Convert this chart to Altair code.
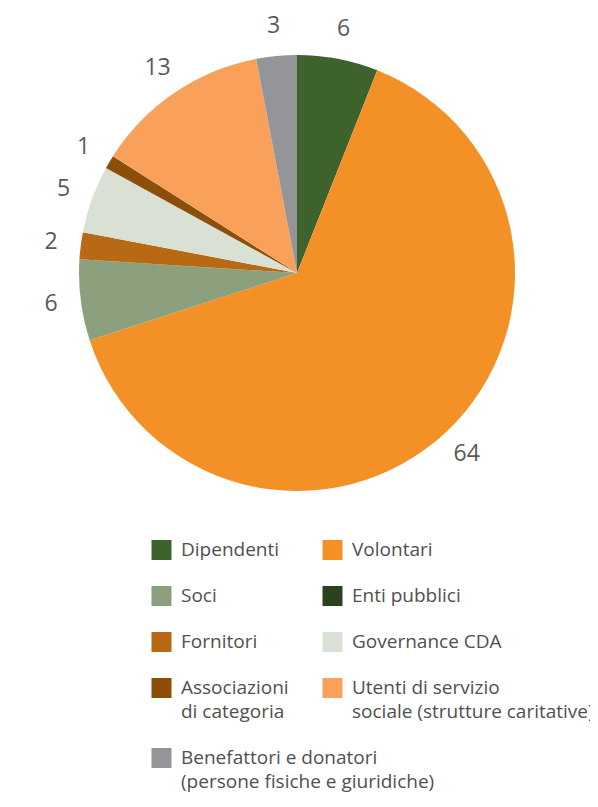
import altair as alt
import pandas as pd

# ---- data ----
categories = [
    "Dipendenti", "Volontari", "Soci", "Enti pubblici", "Fornitori",
    "Governance CDA", "Associazioni di categoria",
    "Utenti di servizio sociale (strutture caritative)",
    "Benefattori e donatori (persone fisiche e giuridiche)",
]
legend_labels = [
    "Dipendenti", "Volontari", "Soci", "Enti pubblici", "Fornitori",
    "Governance CDA", "Associazioni\ndi categoria",
    "Utenti di servizio\nsociale (strutture caritative)",
    "Benefattori e donatori\n(persone fisiche e giuridiche)",
]
values = [6, 64, 6, 0, 2, 5, 1, 13, 3]
colors = ["#3e622b", "#f39026", "#8da07e", "#2a421e", "#b86914",
          "#d9e0d4", "#8b4f09", "#f9a05a", "#939598"]

df = pd.DataFrame({"idx": list(range(len(categories))),
                   "category": categories, "value": values})

# legend layout (2 columns, rows grow with the number of text lines)
line_unit, row_gap = 24, 22
n_rows = (len(categories) + 1) // 2
tops = []
top = 0
for r in range(n_rows):
    tops.append(top)
    lines = max(legend_labels[i].count("\n") + 1
                for i in range(r * 2, min(r * 2 + 2, len(categories))))
    top += lines * line_unit + row_gap
leg = pd.DataFrame({
    "category": categories,
    "label": legend_labels,
    "lx": [i % 2 for i in range(len(categories))],
    "ly": [tops[i // 2] for i in range(len(categories))],
})

CX, CY = 289, 265
FONT = "Open Sans"
color_scale = alt.Scale(domain=categories, range=colors)

base = alt.Chart(df).encode(
    theta=alt.Theta("value:Q", stack=True),
    order=alt.Order("idx:Q"),
    x=alt.value(CX), y=alt.value(CY),
)
arcs = base.mark_arc(outerRadius=218).encode(
    color=alt.Color("category:N", scale=color_scale, legend=None)
)
labels = base.transform_filter("datum.value > 0").mark_text(
    radius=248, fontSize=23, font=FONT, color="#595959"
).encode(text="value:Q")

lx = alt.X("lx:Q", scale=alt.Scale(domain=[0, 1], range=[153.5, 324.5]), axis=None)
ly = alt.Y("ly:Q", scale=alt.Scale(domain=[0, 300], range=[542, 842]), axis=None)

squares = alt.Chart(leg).mark_square(size=400, opacity=1).encode(
    x=lx, y=ly,
    color=alt.Color("category:N", scale=color_scale, legend=None),
)
leg_text = alt.Chart(leg).mark_text(
    align="left", baseline="line-top", dx=19.5, dy=-12, fontSize=19,
    lineHeight=24, lineBreak="\n", font=FONT, color="#505050",
).encode(x=lx, y=ly, text="label:N")

chart = alt.layer(arcs, labels, squares, leg_text).properties(
    width=582, height=787, padding=0,
    autosize=alt.AutoSizeParams(type="none"),
).configure_view(stroke=None)

chart.save("out.html", embed_options={"renderer": "svg", "actions": False})
